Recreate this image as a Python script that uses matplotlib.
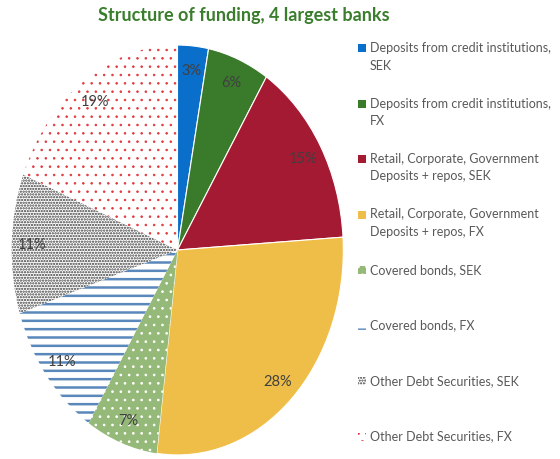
import matplotlib
matplotlib.use("Agg")
import matplotlib.pyplot as plt
from matplotlib.patches import Rectangle

plt.rcParams['font.family'] = ['Lato', 'DejaVu Sans']
plt.rcParams['hatch.linewidth'] = 1.0

# 자금 구조 (4대 은행)
labels = [
    "Deposits from credit institutions,\nSEK",
    "Deposits from credit institutions,\nFX",
    "Retail, Corporate, Government\nDeposits + repos, SEK",
    "Retail, Corporate, Government\nDeposits + repos, FX",
    "Covered bonds, SEK",
    "Covered bonds, FX",
    "Other Debt Securities, SEK",
    "Other Debt Securities, FX",
]
shares = [3, 6, 15, 28, 7, 11, 11, 19]
face_colors = ['#0A6FCB', '#3A7A2B', '#A31A32', '#EFBE48',
               '#95B978', 'white', 'white', 'white']
hatch_colors = ['white', 'white', 'white', 'white',
                'white', '#5A88BA', '#3A3A3A', '#E0393E']
hatches = [None, None, None, None, '..', '--', '......', '..']
hatch_widths = [1.0, 1.0, 1.0, 1.0, 0.7, 1.8, 1.1, 0.6]

fig = plt.figure(figsize=(5.6, 4.6), dpi=100)
ax = fig.add_axes([10 / 560, 2 / 460, 335 / 560, 414 / 460])

wedges, texts = ax.pie(shares, startangle=90, counterclock=False,
                       labels=[f"{s}%" for s in shares], labeldistance=0.88,
                       textprops=dict(color='#404040', fontsize=10.5,
                                      ha='center', va='center'))
for w, fc, hc, h, hw in zip(wedges, face_colors, hatch_colors, hatches, hatch_widths):
    w.set_facecolor(fc)
    w.set_edgecolor(hc)
    if h:
        w.set_hatch(h)
        w.set_hatch_linewidth(hw)
        w.set_linewidth(0)
    else:
        w.set_linewidth(0.8)
ax.set_aspect('auto')
ax.set_xlim(-1.01, 1.01)
ax.set_ylim(-1.01, 1.01)

fig.suptitle("Structure of funding, 4 largest banks", x=0.435, y=0.985,
             color='#3A7D2C', fontsize=13, fontweight='bold')

# 범례
for i, (lab, fc, hc, h) in enumerate(zip(labels, face_colors, hatch_colors, hatches)):
    ytop = 460 - (42 + i * 55.5)
    fig.add_artist(Rectangle((358 / 560, (ytop - 11) / 460), 8 / 560, 8 / 460,
                             transform=fig.transFigure, facecolor=fc,
                             edgecolor=hc if h else 'none', hatch=h, lw=0))
    fig.text(370 / 560, ytop / 460, lab, color='#595959', fontsize=9,
             va='top', ha='left', linespacing=1.55)

fig.savefig("out.png", dpi=100)
